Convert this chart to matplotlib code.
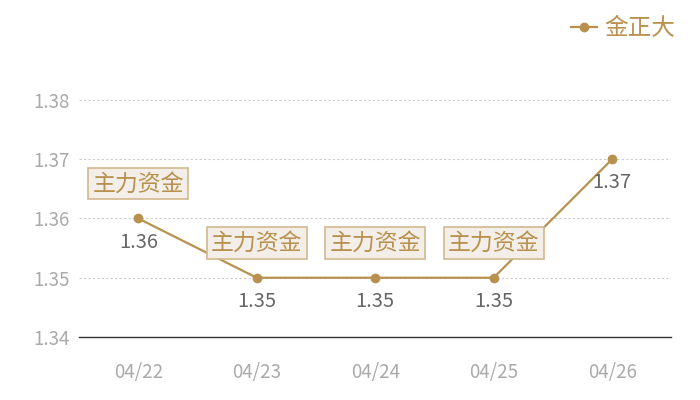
import matplotlib.pyplot as plt

plt.rcParams['font.family'] = ['Noto Sans CJK SC', 'DejaVu Sans']

dates = ['04/22', '04/23', '04/24', '04/25', '04/26']
prices = [1.36, 1.35, 1.35, 1.35, 1.37]
marked = [0, 1, 2, 3]
mark_text = '主力资金'
series_name = '金正大'
yticks = [1.34, 1.35, 1.36, 1.37, 1.38]

gold = '#b8914f'

fig = plt.figure(figsize=(7, 4), dpi=100)
ax = fig.add_axes([0.113, 0.1575, 0.846, 0.5925])

x = list(range(len(dates)))
line, = ax.plot(x, prices, color=gold, lw=1.6, marker='o', ms=6,
                label=series_name, zorder=3)

for i, v in zip(x, prices):
    ax.annotate(f'{v:.2f}', (i, v), xytext=(0, -17), textcoords='offset points',
                ha='center', va='center', fontsize=14.5, color='#666666', zorder=4)

for i in marked:
    ax.annotate(mark_text, (i, prices[i]), xytext=(0, 25), textcoords='offset points',
                ha='center', va='center', fontsize=16.5, color=gold, zorder=5,
                bbox=dict(boxstyle='square,pad=0.18', fc='#f3efe8', ec='#d2b88e', lw=1.2))

ax.set_xlim(-0.5, len(dates) - 0.5)
ax.set_ylim(yticks[0], yticks[-1])
ax.set_xticks(x)
ax.set_xticklabels(dates)
ax.set_yticks(yticks)
ax.set_yticklabels([f'{t:.2f}' for t in yticks])
ax.tick_params(length=0, labelsize=13.5, colors='#aaaaaa')
ax.tick_params(axis='y', pad=7)
ax.tick_params(axis='x', pad=18)

for t in yticks[1:]:
    ax.axhline(t, color='#cccccc', lw=0.8, ls=(0, (2, 2)), zorder=1)

for s in ['top', 'right', 'left']:
    ax.spines[s].set_visible(False)
ax.spines['bottom'].set_color('#333333')
ax.spines['bottom'].set_linewidth(1)

fig.legend(handles=[line], loc='upper right', bbox_to_anchor=(0.995, 1.01),
           frameon=False, fontsize=17, labelcolor=gold, handlelength=1.1,
           handletextpad=0.3)

fig.savefig('out.png', dpi=100)
